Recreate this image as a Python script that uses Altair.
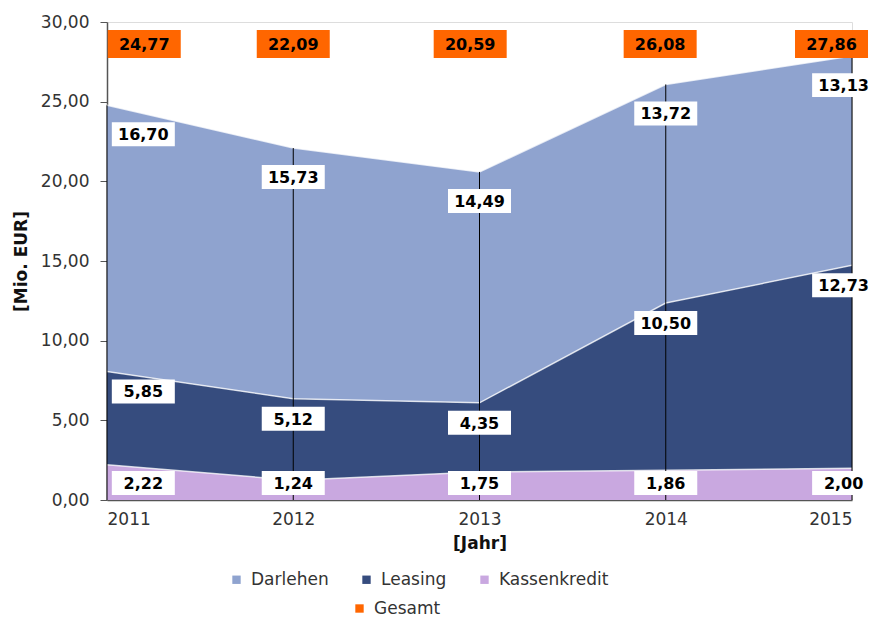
import altair as alt
import pandas as pd

years = [2011, 2012, 2013, 2014, 2015]
darlehen = [16.70, 15.73, 14.49, 13.72, 13.13]
leasing = [5.85, 5.12, 4.35, 10.50, 12.73]
kassenkredit = [2.22, 1.24, 1.75, 1.86, 2.00]
gesamt = [24.77, 22.09, 20.59, 26.08, 27.86]
series_names = ["Darlehen", "Leasing", "Kassenkredit"]
series_colors = ["#8FA3CF", "#364C7E", "#C9A8E0"]
gesamt_color = "#FF6600"
y_ticks = [0, 5, 10, 15, 20, 25, 30]

rows = []
for i, yr in enumerate(years):
    k, l, d = kassenkredit[i], leasing[i], darlehen[i]
    rows.append(dict(year=yr, series="Kassenkredit", value=k, lower=0.0, upper=k))
    rows.append(dict(year=yr, series="Leasing", value=l, lower=k, upper=k + l))
    rows.append(dict(year=yr, series="Darlehen", value=d, lower=k + l, upper=k + l + d))
df = pd.DataFrame(rows)
tot = pd.DataFrame({"year": years, "total": gesamt, "series": ["Gesamt"] * len(years)})

FONT = "DejaVu Sans"
GERMAN = "replace(format(datum.value, '.2f'), '.', ',')"

xscale = alt.Scale(domain=[2011, 2015], nice=False, zero=False)
yscale = alt.Scale(domain=[0, 30], nice=False)

X = alt.X("year:Q", scale=xscale,
          axis=alt.Axis(values=years, format="d", title="[Jahr]", ticks=False,
                        labelPadding=11, titlePadding=8, grid=False,
                        domainColor="#555", domainWidth=1.5, labelFontSize=17, labelColor="#333",
                        titleFontSize=17, titleFontWeight="bold", titleColor="#111"))
Y = alt.Y("upper:Q", scale=yscale,
          axis=alt.Axis(values=y_ticks, labelExpr=GERMAN, title="[Mio. EUR]", grid=False,
                        tickSize=7, tickColor="#555", domainColor="#555", domainWidth=1.5,
                        labelFontSize=17, labelColor="#333", labelPadding=11,
                        titleFontSize=17, titleFontWeight="bold", titleColor="#111",
                        titlePadding=10))

base = alt.Chart(df)

areas = base.mark_area(opacity=1).encode(
    x=X, y=Y, y2="lower:Q",
    color=alt.Color("series:N", scale=alt.Scale(domain=series_names, range=series_colors),
                    legend=alt.Legend(title=None, orient="none", direction="horizontal",
                                      legendX=121, legendY=549, symbolType="square",
                                      symbolSize=70, labelFontSize=17, labelColor="#333",
                                      labelFont=FONT, columnPadding=29, symbolStrokeWidth=0,
                                      labelOffset=6)),
    detail="series:N",
)

edges = base.mark_line(color="white", strokeWidth=1.5, opacity=0.75).encode(
    x="year:Q", y="upper:Q", detail="series:N"
)

rules = alt.Chart(tot).transform_calculate(zero="0").mark_rule(
    color="black", strokeWidth=1
).encode(x="year:Q", y="zero:Q", y2="total:Q")

BOX = "M-1,-0.38H1V0.38H-1Z"
XL = ("datum.year == 2011 ? datum.year + 0.195 : "
      "datum.year == 2015 ? datum.year - 0.045 : datum.year")


def labels(series, yoff=None, ypix=None):
    b = base.transform_filter(alt.datum.series == series).transform_calculate(
        xl=XL, lbl=GERMAN
    )
    if ypix is None:
        yenc = alt.Y("upper:Q")
        box = b.mark_point(shape=BOX, size=63 * 63, filled=True, fill="white",
                           opacity=1, strokeWidth=0, yOffset=yoff)
        txt = b.mark_text(font=FONT, fontWeight="bold", fontSize=16, color="black",
                          baseline="middle", yOffset=yoff + 1)
    else:
        yenc = alt.value(ypix)
        box = b.mark_point(shape=BOX, size=63 * 63, filled=True, fill="white",
                           opacity=1, strokeWidth=0)
        txt = b.mark_text(font=FONT, fontWeight="bold", fontSize=16, color="black",
                          baseline="middle", dy=1)
    return [box.encode(x="xl:Q", y=yenc), txt.encode(x="xl:Q", y=yenc, text="lbl:N")]


lab_d = labels("Darlehen", yoff=29)
lab_l = labels("Leasing", yoff=20)
lab_k = labels("Kassenkredit", ypix=461)

XG = ("datum.year == 2011 ? datum.year + 0.2 : datum.year == 2013 ? datum.year - 0.05 : "
      "datum.year == 2014 ? datum.year - 0.03 : datum.year == 2015 ? datum.year - 0.11 : datum.year")
gbase = alt.Chart(tot).transform_calculate(
    xg=XG, lbl="replace(format(datum.total, '.2f'), '.', ',')"
)
gbox = gbase.mark_point(shape="M-1,-0.384H1V0.384H-1Z", size=73 * 73, filled=True,
                        opacity=1, strokeWidth=0).encode(
    x="xg:Q", y=alt.value(22),
    fill=alt.Fill("series:N", scale=alt.Scale(domain=["Gesamt"], range=[gesamt_color]),
                  legend=alt.Legend(title=None, orient="none", legendX=244, legendY=578,
                                    symbolType="square", symbolSize=70, labelFontSize=17,
                                    labelColor="#333", labelFont=FONT, symbolStrokeWidth=0,
                                    labelOffset=6)),
)
gtxt = gbase.mark_text(font=FONT, fontWeight="bold", fontSize=16, color="black",
                       baseline="middle", dy=1).encode(x="xg:Q", y=alt.value(22), text="lbl:N")

chart = alt.layer(areas, edges, rules, *lab_d, *lab_l, *lab_k, gbox, gtxt).resolve_scale(
    color="independent"
).properties(
    width=745, height=478,
    autosize=alt.AutoSizeParams(type="none"),
    padding={"left": 99, "top": 14, "right": 22, "bottom": 118},
).configure_view(stroke=None).configure(
    font=FONT
).configure_axis(labelFont=FONT, titleFont=FONT)

chart.save("out.html", embed_options={"renderer": "svg", "actions": False})
